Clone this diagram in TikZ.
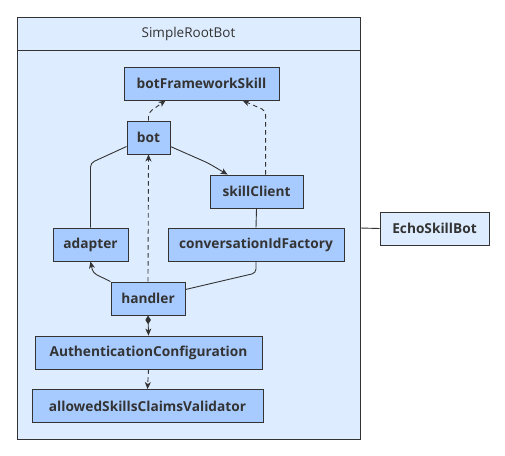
\documentclass[tikz,border=0pt]{standalone}
\usepackage{fontspec}
\setmainfont{Open Sans}
\usetikzlibrary{arrows.meta,calc}
\definecolor{contfill}{RGB}{221,237,255}
\definecolor{boxfill}{RGB}{168,203,255}
\definecolor{edgecol}{RGB}{51,51,51}
\tikzset{
  box/.style={draw=edgecol, line width=0.9pt, fill=boxfill, minimum height=33pt, inner sep=0pt, font=\bfseries\fontsize{13.7}{15}\selectfont, text=edgecol},
  lbox/.style={box, fill=contfill},
  conn/.style={draw=edgecol, line width=0.9pt, rounded corners=4pt},
  arr/.style={conn, -{Stealth[length=7pt,width=6pt,inset=2pt]}},
  darr/.style={arr, dash pattern=on 4.5pt off 3.5pt},
  comp/.style={conn, {Diamond[length=9pt,width=5.5pt]}-{Stealth[length=7pt,width=6pt,inset=2pt]}, rounded corners=0pt},
}
\begin{document}
\begin{tikzpicture}[x=1pt,y=-1pt]
\useasboundingbox (0,0) rectangle (505,455);
\node[draw=edgecol, line width=0.9pt, fill=contfill, minimum width=343pt, minimum height=422pt, inner sep=0pt] (cont) at (188.5,228) {};
\draw[draw=edgecol, line width=0.9pt] (17,50) -- (360,50);
\node[font=\fontsize{13.5}{15}\selectfont, text=edgecol] (title) at (188.5,34) {SimpleRootBot};
\node[box, minimum width=155pt] (bfs) at (201.5,83.5) {botFrameworkSkill};
\node[box, minimum width=43pt] (bot) at (148.5,137.5) {bot};
\node[box, minimum width=93pt] (sc) at (256.5,191.5) {skillClient};
\node[box, minimum width=75pt] (adapter) at (90.5,244.5) {adapter};
\node[box, minimum width=176pt] (cif) at (256,244.5) {conversationIdFactory};
\node[box, minimum width=74pt] (handler) at (148,298.5) {handler};
\node[box, minimum width=227pt] (auth) at (148.5,352.5) {AuthenticationConfiguration};
\node[box, minimum width=231pt] (allowed) at (147.5,406) {allowedSkillsClaimsValidator};
\node[lbox, minimum width=109pt] (echo) at (434.5,228.5) {EchoSkillBot};
% edges
\draw[conn] (cont.east) -- (echo.west);
\draw[darr] (bot.north) -- ($(bot.north)+(0,-8)$) -- ($(bfs.south west)+(42,0)$);
\draw[darr] ($(sc.north west)+(56,0)$) -- ($(sc.north west)+(56,-64)$) -- ($(bfs.south west)+(119,0)$);
\draw[arr] ($(bot.east)+(0,9)$) -- (208,163) -- ($(sc.north west)+(18,0)$);
\draw[conn] ($(bot.west)+(0,9)$) -- (90.5,163) -- (adapter.north);
\draw[darr] (handler.north) -- (bot.south);
\draw[arr] (handler.north west) -- (93,273) -- (adapter.south);
\draw[conn] ($(handler.east)+(0,-9)$) -- (256,273) -- (cif.south);
\draw[conn] (sc.south) -- (cif.north);
\draw[comp] (handler.south) -- (auth.north);
\draw[darr] (auth.south) -- (allowed.north);
\end{tikzpicture}
\end{document}
